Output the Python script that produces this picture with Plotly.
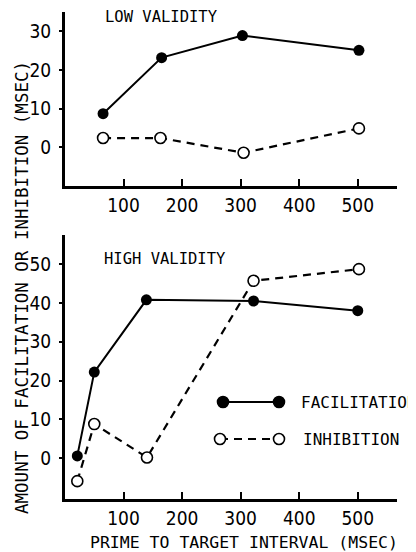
import plotly.graph_objects as go

# ---- data ----
low_fac_x = [65, 165, 303, 502]
low_fac_y = [8.7, 23.2, 28.9, 25.1]
low_inh_x = [65, 163, 305, 502]
low_inh_y = [2.4, 2.4, -1.4, 4.9]

high_fac_x = [21, 50, 139, 322, 500]
high_fac_y = [0.6, 22.2, 40.8, 40.5, 38.0]
high_inh_x = [21, 50, 140, 322, 502]
high_inh_y = [-5.9, 8.8, 0.2, 45.7, 48.7]

x_ticks = [100, 200, 300, 400, 500]
low_y_ticks = [0, 10, 20, 30]
high_y_ticks = [0, 10, 20, 30, 40, 50]

TXT = "DejaVu Sans Mono"
NUM = "Liberation Sans Narrow, DejaVu Sans Condensed, DejaVu Sans"

fig = go.Figure()

def add_pair(fx, fy, ix, iy, xa, ya):
    fig.add_trace(go.Scatter(x=ix, y=iy, xaxis=xa, yaxis=ya, mode="lines+markers",
                             line=dict(color="black", width=2.2, dash="8px,6px"),
                             marker=dict(symbol="circle", size=11, color="white",
                                         line=dict(color="black", width=1.6)),
                             showlegend=False, cliponaxis=False))
    fig.add_trace(go.Scatter(x=fx, y=fy, xaxis=xa, yaxis=ya, mode="lines+markers",
                             line=dict(color="black", width=2),
                             marker=dict(symbol="circle", size=11, color="black"),
                             showlegend=False, cliponaxis=False))

add_pair(low_fac_x, low_fac_y, low_inh_x, low_inh_y, "x", "y")
add_pair(high_fac_x, high_fac_y, high_inh_x, high_inh_y, "x2", "y2")

# the page body offsets the figure by 8px; lay out in window pixels
OFF = 8
W, H = 416 - OFF, 552 - OFF
L, R, T, B = 65 - OFF, 19, 10 - OFF, 53
pw, ph = W - L - R, H - T - B

def px(xp):
    return (xp - OFF - L) / pw

def py(yp):
    return (H - B - (yp - OFF)) / ph

xcommon = dict(range=[0, 567], tickvals=x_ticks, ticks="inside", ticklen=7, tickwidth=2,
               tickcolor="black", showline=True, linewidth=3, linecolor="black",
               showgrid=False, zeroline=False,
               tickfont=dict(family=NUM, size=19, color="black"))
ycommon = dict(ticks="outside", ticklen=3, tickwidth=1.5, tickcolor="black",
               showline=True, linewidth=3, linecolor="black", showgrid=False,
               zeroline=False, ticklabelstandoff=4,
               tickfont=dict(family=NUM, size=19, color="black"))

fig.update_layout(
    width=W, height=H, margin=dict(l=L, r=R, t=T, b=B),
    paper_bgcolor="white", plot_bgcolor="white",
    xaxis=dict(domain=[0, 1], anchor="y", **xcommon),
    yaxis=dict(domain=[py(186), py(12)], anchor="x", range=[-10, 35],
               tickvals=low_y_ticks, **ycommon),
    xaxis2=dict(domain=[0, 1], anchor="y2", **xcommon),
    yaxis2=dict(domain=[0, py(235)], anchor="x2", range=[-10.5, 57.5],
                tickvals=high_y_ticks, **ycommon),
)

ann = [
    dict(text="LOW VALIDITY", x=px(104), y=py(17), xanchor="left", yanchor="middle",
         font=dict(family=TXT, size=15.5, color="black")),
    dict(text="HIGH VALIDITY", x=px(103), y=py(259), xanchor="left", yanchor="middle",
         font=dict(family=TXT, size=15.5, color="black")),
    dict(text="AMOUNT OF FACILITATION OR INHIBITION (MSEC)", x=px(22), y=py(288),
         textangle=-90, xanchor="center", yanchor="middle",
         font=dict(family=TXT, size=17.5, color="black")),
    dict(text="PRIME TO TARGET INTERVAL (MSEC)", x=px(243.5), y=py(542),
         xanchor="center", yanchor="middle",
         font=dict(family=TXT, size=16.5, color="black")),
    dict(text="FACILITATION", x=px(300), y=py(402), xanchor="left", yanchor="middle",
         font=dict(family=TXT, size=16, color="black")),
    dict(text="INHIBITION", x=px(302), y=py(439), xanchor="left", yanchor="middle",
         font=dict(family=TXT, size=16, color="black")),
]
for a in ann:
    a.update(xref="paper", yref="paper", showarrow=False, borderpad=0)
fig.update_layout(annotations=ann)

# legend samples (layout decoration)
shapes = []
ly1, ly2 = py(402), py(439)
shapes.append(dict(type="line", xref="paper", yref="paper", x0=px(223), x1=px(279),
                   y0=ly1, y1=ly1, line=dict(color="black", width=2)))
shapes.append(dict(type="line", xref="paper", yref="paper", x0=px(220), x1=px(279),
                   y0=ly2, y1=ly2, line=dict(color="black", width=2.2, dash="8px,6px")))
for cx, cy, fill in [(223, 402, "black"), (279, 402, "black"), (220, 439, "white"), (279, 439, "white")]:
    shapes.append(dict(type="circle", xref="paper", yref="paper",
                       xsizemode="pixel", ysizemode="pixel",
                       xanchor=px(cx), yanchor=py(cy), x0=-5.5, x1=5.5, y0=-5.5, y1=5.5,
                       fillcolor=fill, line=dict(color="black", width=1.6), layer="above"))
fig.update_layout(shapes=shapes)

fig.write_html("out.html")
